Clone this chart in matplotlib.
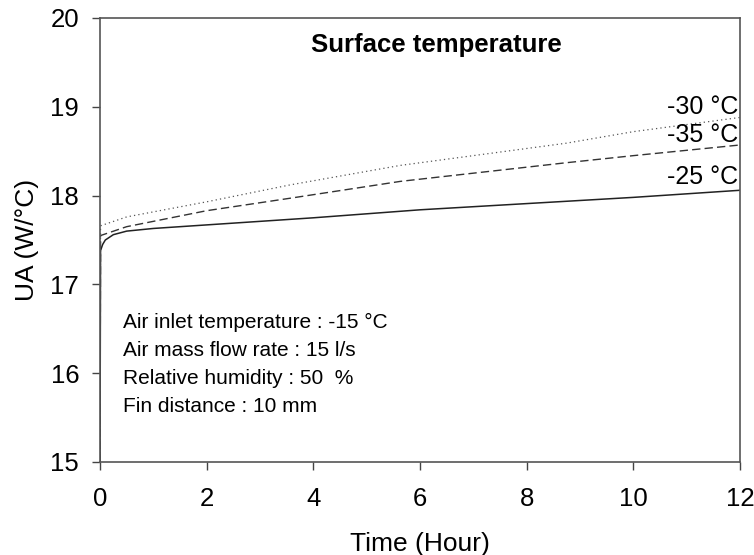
import matplotlib
matplotlib.use("Agg")
import matplotlib.pyplot as plt

plt.rcParams['font.family'] = ['Liberation Sans', 'DejaVu Sans']

t_25 = [0, 0.01, 0.05, 0.1, 0.25, 0.5, 1, 2, 4, 6, 8, 10, 12]
ua_25 = [15.0, 17.38, 17.45, 17.5, 17.56, 17.6, 17.63, 17.67, 17.75, 17.84, 17.91, 17.98, 18.06]

t_35 = [0, 0.01, 0.5, 2, 3.56, 5.63, 8.74, 10, 12]
ua_35 = [15.0, 17.55, 17.65, 17.83, 17.97, 18.16, 18.37, 18.45, 18.57]

t_30 = [0, 0.01, 0.5, 2, 3.56, 5.63, 8.74, 10, 12]
ua_30 = [15.0, 17.66, 17.76, 17.93, 18.12, 18.34, 18.59, 18.72, 18.88]

labels = ['-30 °C', '-35 °C', '-25 °C']
label_y = [19.0, 18.68, 18.21]

info_lines = ['Air inlet temperature : -15 °C',
              'Air mass flow rate : 15 l/s',
              'Relative humidity : 50  %',
              'Fin distance : 10 mm']

fig = plt.figure(figsize=(7.54, 5.55), dpi=100)
ax = fig.add_axes([100/754, 1-462/555, 640/754, 444/555])

ax.plot(t_30, ua_30, color='#555555', lw=0.9, linestyle=(0, (1, 2.5)))
ax.plot(t_35, ua_35, color='#333333', lw=1.0, linestyle=(0, (6, 3)))
ax.plot(t_25, ua_25, color='#222222', lw=1.1, linestyle='-')

ax.set_xlim(0, 12)
ax.set_ylim(15, 20)
ax.set_xticks([0, 2, 4, 6, 8, 10, 12])
ax.set_yticks([15, 16, 17, 18, 19, 20])
ax.tick_params(direction='out', length=6, width=1, labelsize=18.5, colors='#444444', labelcolor='black')
ax.tick_params(axis='x', pad=12)
ax.tick_params(axis='y', pad=9)
for s in ax.spines.values():
    s.set_color('#555555')
    s.set_linewidth(1.2)

ax.set_xlabel('Time (Hour)', fontsize=19, labelpad=15)
ax.set_ylabel('UA (W/°C)', fontsize=19, labelpad=8)

ax.text(6.3, 19.7, 'Surface temperature', fontsize=18.5, fontweight='bold', ha='center', va='center')

for lab, y in zip(labels, label_y):
    ax.text(11.97, y, lab, fontsize=18, ha='right', va='center')

for i, line in enumerate(info_lines):
    ax.text(0.43, 16.57 - i * 0.315, line, fontsize=15, ha='left', va='center')

fig.savefig('out.png', dpi=100)
